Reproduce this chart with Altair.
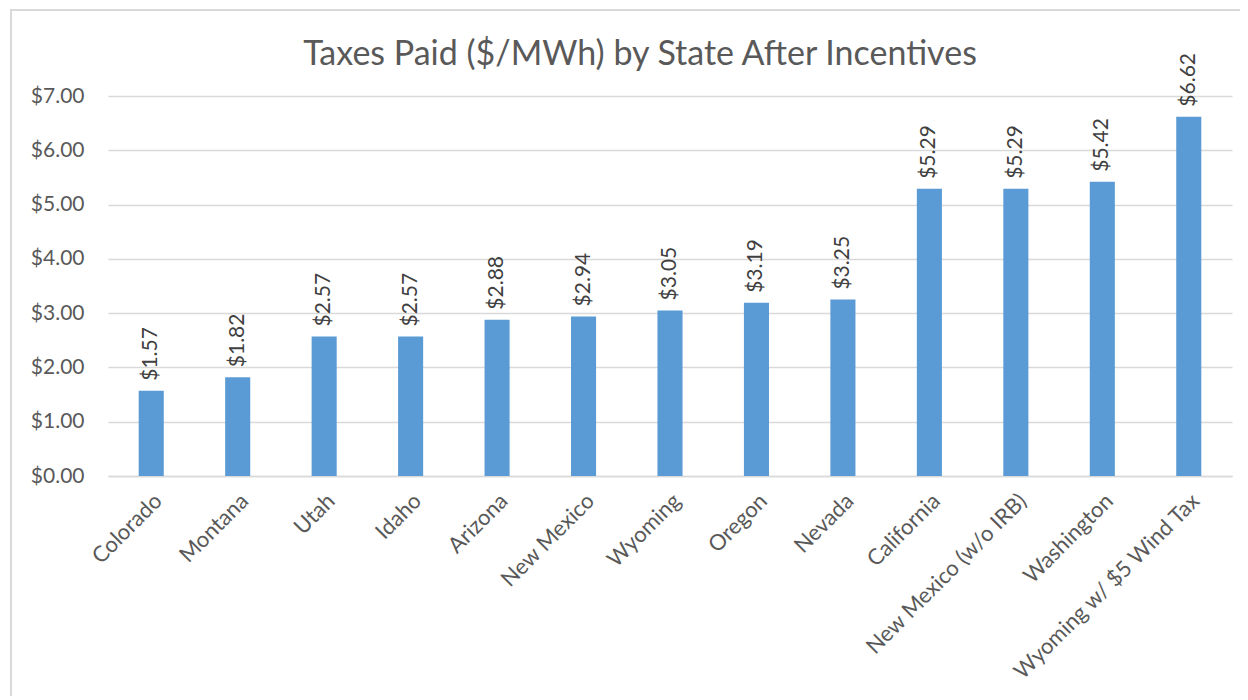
import altair as alt
import pandas as pd

states = ["Colorado", "Montana", "Utah", "Idaho", "Arizona", "New Mexico", "Wyoming",
          "Oregon", "Nevada", "California", "New Mexico (w/o IRB)", "Washington",
          "Wyoming w/ $5 Wind Tax"]
taxes = [1.57, 1.82, 2.57, 2.57, 2.88, 2.94, 3.05, 3.19, 3.25, 5.29, 5.29, 5.42, 6.62]
y_ticks = [0, 1, 2, 3, 4, 5, 6, 7]
title_text = ["Taxes Paid ($/MWh) by State After Incentives"]

df = pd.DataFrame({"state": states, "tax": taxes})

FONT = "Lato"
TXT = "#595959"
W, H = 1124, 380

x = alt.X("state:N", sort=states, title=None,
          scale=alt.Scale(paddingInner=0.71, paddingOuter=0.355),
          axis=alt.Axis(labelAngle=-45, labelAlign="right", labelBaseline="top",
                        labelFontSize=22, labelColor=TXT, labelFont=FONT,
                        labelPadding=14, ticks=False, domainColor="#D9D9D9",
                        domainWidth=1.5, labelLimit=400))
y = alt.Y("tax:Q", title=None,
          scale=alt.Scale(domain=[0, 7], nice=False),
          axis=alt.Axis(values=y_ticks, format="$.2f", labelFontSize=21,
                        labelColor=TXT, labelFont=FONT, labelPadding=24,
                        ticks=False, domain=False, gridColor="#D9D9D9",
                        gridWidth=1.3))

bars = alt.Chart(df).mark_bar(color="#5B9BD5").encode(x=x, y=y)
labels = alt.Chart(df).mark_text(angle=270, align="left", baseline="middle", dx=10,
                                 fontSize=21, font=FONT, color="#404040").encode(
    x=alt.X("state:N", sort=states), y="tax:Q", text=alt.Text("tax:Q", format="$.2f"))

border = alt.Chart(pd.DataFrame({"a": [0]})).mark_rect(
    fill=None, stroke="#D9D9D9", strokeWidth=2, clip=False).encode(
    x=alt.value(-97), x2=alt.value(W + 40), y=alt.value(-86), y2=alt.value(H + 300))

title = alt.Chart(pd.DataFrame({"t": title_text})).mark_text(
    fontSize=34, font=FONT, color=TXT, align="center", baseline="alphabetic").encode(
    x=alt.value(532), y=alt.value(-31), text="t:N")

chart = alt.layer(border, bars, labels, title).properties(
    width=W, height=H,
    autosize=alt.AutoSizeParams(type="none"),
    padding={"left": 100, "top": 88, "right": 8, "bottom": 220},
).configure_view(stroke=None)

chart.save("out.html", embed_options={"renderer": "svg", "actions": False})
